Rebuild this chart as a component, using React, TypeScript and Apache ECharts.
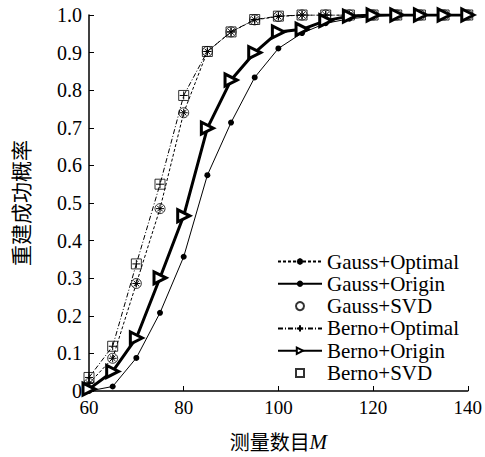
import React, { useEffect, useRef } from "react";
import * as echarts from "echarts";

const xValues = [60, 65, 70, 75, 80, 85, 90, 95, 100, 105, 110, 115, 120, 125, 130, 135, 140];
const gaussOptimal = [0.02, 0.087, 0.286, 0.485, 0.74, 0.903, 0.955, 0.987, 0.996, 1, 1, 1, 1, 1, 1, 1, 1];
const gaussOrigin = [0, 0.012, 0.088, 0.208, 0.357, 0.574, 0.714, 0.834, 0.911, 0.952, 0.978, 0.99, 0.996, 1, 1, 1, 1];
const gaussSVD = [0.02, 0.087, 0.286, 0.485, 0.74, 0.903, 0.955, 0.987, 0.996, 1, 1, 1, 1, 1, 1, 1, 1];
const bernoOptimal = [0.036, 0.119, 0.338, 0.55, 0.786, 0.903, 0.955, 0.988, 0.997, 1, 1, 1, 1, 1, 1, 1, 1];
const bernoOrigin = [0.005, 0.052, 0.141, 0.301, 0.466, 0.699, 0.827, 0.9, 0.955, 0.962, 0.985, 0.997, 1, 1, 1, 1, 1];
const bernoSVD = [0.036, 0.119, 0.338, 0.55, 0.786, 0.903, 0.955, 0.988, 0.997, 1, 1, 1, 1, 1, 1, 1, 1];

const pair = (ys: number[]) => xValues.map((x, i) => [x, ys[i]]);

const ASTERISK = "path://M-1,0L1,0M0,-1L0,1M-0.7,-0.7L0.7,0.7M-0.7,0.7L0.7,-0.7";
const PLUS = "path://M-1,0L1,0M0,-1L0,1";
const SQUARE = "path://M0,0L10,0L10,10L0,10Z";

const SERIF = "Liberation Serif";
const CJK = "Noto Sans CJK SC";

export default function App() {
  const ref = useRef<HTMLDivElement>(null);
  useEffect(() => {
    if (!ref.current) return;
    document.body.style.margin = "0";
    const chart = echarts.init(ref.current, undefined, { renderer: "svg" });
    chart.setOption({
      animation: false,
      backgroundColor: "#fff",
      grid: { left: 89, right: 14, top: 15, bottom: 57 },
      legend: {
        left: 272,
        top: 246,
        orient: "vertical",
        itemWidth: 44,
        itemHeight: 8,
        itemGap: 1.3,
        symbolKeepAspect: true,
        data: [
          { name: "Gauss+Optimal" },
          { name: "Gauss+Origin" },
          { name: "Gauss+SVD" },
          { name: "Berno+Optimal" },
          { name: "Berno+Origin" },
          { name: "Berno+SVD", icon: SQUARE },
        ],
        textStyle: { fontFamily: SERIF, fontSize: 21, color: "#000", lineHeight: 20 },
      },
      xAxis: {
        type: "value",
        min: 60,
        max: 140,
        interval: 20,
        name: "{a|测量数目}{b|M}",
        nameLocation: "middle",
        nameGap: 40,
        nameTextStyle: {
          rich: {
            a: { fontFamily: CJK, fontSize: 20, color: "#000" },
            b: { fontFamily: SERIF, fontSize: 21, fontStyle: "italic", color: "#000" },
          },
        },
        axisLine: { lineStyle: { color: "#000", width: 1.5 } },
        axisTick: { inside: true, length: 5, lineStyle: { color: "#000" } },
        axisLabel: { fontFamily: SERIF, fontSize: 19, color: "#000", margin: 7 },
        splitLine: { show: false },
      },
      yAxis: {
        type: "value",
        min: 0,
        max: 1,
        interval: 0.1,
        name: "重建成功概率",
        nameLocation: "middle",
        nameRotate: 90,
        nameGap: 59,
        nameTextStyle: { fontFamily: CJK, fontSize: 21, color: "#000" },
        axisLine: { lineStyle: { color: "#000", width: 1.5 } },
        axisTick: { inside: true, length: 5, lineStyle: { color: "#000" } },
        axisLabel: {
          fontFamily: SERIF,
          fontSize: 20,
          color: "#000",
          margin: 7,
          formatter: (v: number) => (v === 0 ? "0" : v.toFixed(1)),
        },
        splitLine: { show: false },
      },
      series: [
        {
          name: "Gauss+Optimal",
          type: "line",
          data: pair(gaussOptimal),
          symbol: ASTERISK,
          symbolSize: 8,
          lineStyle: { color: "#000", width: 1, type: [3, 2] },
          itemStyle: { color: "#000", borderColor: "#000", borderWidth: 1 },
          z: 3,
        },
        {
          name: "Gauss+Origin",
          type: "line",
          data: pair(gaussOrigin),
          symbol: "circle",
          symbolSize: 6,
          lineStyle: { color: "#000", width: 1 },
          itemStyle: { color: "#000" },
          z: 2,
        },
        {
          name: "Gauss+SVD",
          type: "scatter",
          data: pair(gaussSVD),
          symbol: "circle",
          symbolSize: 10,
          itemStyle: { color: "rgba(255,255,255,0)", borderColor: "#000", borderWidth: 1 },
          z: 4,
        },
        {
          name: "Berno+Optimal",
          type: "line",
          data: pair(bernoOptimal),
          symbol: PLUS,
          symbolSize: 8,
          lineStyle: { color: "#000", width: 1, type: [5, 2, 1, 2] },
          itemStyle: { color: "#000", borderColor: "#000", borderWidth: 1 },
          z: 3,
        },
        {
          name: "Berno+Origin",
          type: "line",
          data: pair(bernoOrigin),
          symbol: "triangle",
          symbolRotate: -90,
          symbolSize: 12,
          lineStyle: { color: "#000", width: 3 },
          itemStyle: { color: "#fff", borderColor: "#000", borderWidth: 3 },
          z: 5,
        },
        {
          name: "Berno+SVD",
          type: "scatter",
          data: pair(bernoSVD),
          symbol: "rect",
          symbolSize: 10,
          itemStyle: { color: "rgba(255,255,255,0)", borderColor: "#000", borderWidth: 1 },
          z: 4,
        },
      ],
    });
    return () => chart.dispose();
  }, []);
  return <div ref={ref} style={{ width: 485, height: 457 }} />;
}
